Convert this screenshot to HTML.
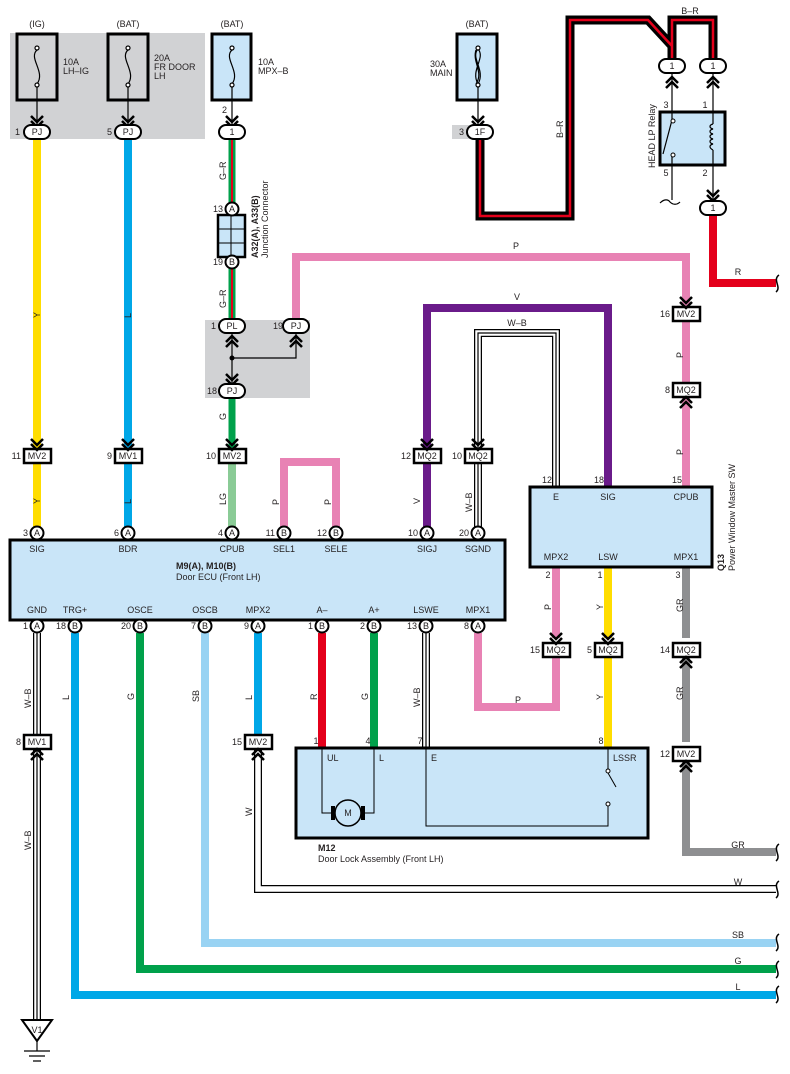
<!DOCTYPE html>
<html><head><meta charset="utf-8"><style>
html,body{margin:0;padding:0;background:#fff;}
svg{display:block;font-family:"Liberation Sans",sans-serif;}
text{font-size:9px;fill:#231f20;}
</style></head><body>
<svg width="790" height="1074" viewBox="0 0 790 1074" xmlns="http://www.w3.org/2000/svg">
<defs>
<g id="chd"><path d="M-6,-10 L0,-4 L6,-10 M-6,-5 L0,1 L6,-5" fill="none" stroke="#000" stroke-width="2.5"/></g>
<g id="chu"><path d="M-6,10 L0,4 L6,10 M-6,5 L0,-1 L6,5" fill="none" stroke="#000" stroke-width="2.5"/></g>
</defs>
<rect x="10" y="33" width="195" height="106" fill="#d1d2d4"/>
<rect x="205" y="320" width="105" height="78" fill="#d1d2d4"/>
<rect x="452" y="125" width="40" height="14" fill="#d1d2d4"/>

<g stroke="#000" stroke-width="3">
<rect x="17" y="34" width="40" height="66" fill="none"/>
<rect x="108" y="34" width="40" height="66" fill="none"/>
<rect x="212" y="34" width="39" height="66" fill="#c9e5f8"/>
<rect x="457" y="34" width="40" height="66" fill="#c9e5f8"/>
</g>
<g fill="none" stroke="#000" stroke-width="1.2">
<path d="M37,50 C28,58 46,72 37,84"/><path d="M128,50 C119,58 137,72 128,84"/><path d="M232,50 C223,58 241,72 232,84"/>
<path d="M478,49 C470,58 486,70 478,84 M478,49 C486,58 470,70 478,84 M476,50 C472,62 484,72 476,84"/>
<circle cx="37" cy="48" r="2" fill="#fff"/><circle cx="37" cy="85" r="2" fill="#fff"/>
<circle cx="128" cy="48" r="2" fill="#fff"/><circle cx="128" cy="85" r="2" fill="#fff"/>
<circle cx="232" cy="48" r="2" fill="#fff"/><circle cx="232" cy="85" r="2" fill="#fff"/>
<circle cx="478" cy="48" r="2" fill="#fff"/><circle cx="478" cy="85" r="2" fill="#fff"/>
<path d="M37,87 V124 M128,87 V124 M232,87 V124 M478,87 V124"/>
</g>
<use href="#chd" x="37" y="126"/><use href="#chd" x="128" y="126"/><use href="#chd" x="232" y="126"/><use href="#chd" x="478" y="126"/>
<text x="37" y="27" text-anchor="middle">(IG)</text><text x="128" y="27" text-anchor="middle">(BAT)</text><text x="232" y="27" text-anchor="middle">(BAT)</text><text x="477" y="27" text-anchor="middle">(BAT)</text>
<text x="63" y="65">10A</text><text x="63" y="74">LH–IG</text>
<text x="154" y="61">20A</text><text x="154" y="70">FR DOOR</text><text x="154" y="79">LH</text>
<text x="258" y="65">10A</text><text x="258" y="74">MPX–B</text>
<text x="430" y="67">30A</text><text x="430" y="76">MAIN</text>
<text x="222" y="113">2</text>

<g fill="none" stroke-linejoin="miter">
<path d="M37,139 V527" stroke="#ffdd00" stroke-width="8"/>
<path d="M128,139 V527" stroke="#00a7e7" stroke-width="8"/>
<path d="M232,139 V320 M232,398 V450" stroke="#00a14b" stroke-width="7"/>
<path d="M232,139 V203 M232,268 V320" stroke="#e4001b" stroke-width="2"/>
<path d="M232,463 V527" stroke="#8acb96" stroke-width="8"/>
<path d="M296,320 V257 H686 V307 M686,320 V384 M686,397 V487" stroke="#e882b4" stroke-width="8"/>
<path d="M284,527 V462 H336 V527" stroke="#e882b4" stroke-width="8"/>
<path d="M427,450 V308 H608 V487" stroke="#6a1b8a" stroke-width="8"/>
<path d="M427,463 V527" stroke="#6a1b8a" stroke-width="8"/>
<g stroke="#000" stroke-width="8"><path d="M478,450 V333 H556 V487"/><path d="M478,463 V527"/><path d="M426,633 V748"/><path d="M37,633 V735 M37,749 V1020"/></g>
<g stroke="#fff" stroke-width="5.5"><path d="M478,450 V333 H556 V487"/><path d="M478,463 V527"/><path d="M426,633 V748"/><path d="M37,633 V735 M37,749 V1020"/></g>
<g stroke="#000" stroke-width="1.2"><path d="M478,450 V333 H556 V487"/><path d="M478,463 V527"/><path d="M426,633 V748"/><path d="M37,633 V735 M37,749 V1020"/></g>
<path d="M75,633 V995 H776" stroke="#00a7e7" stroke-width="8"/>
<path d="M140,633 V969 H776" stroke="#00a14b" stroke-width="8"/>
<path d="M205,633 V943 H776" stroke="#99d3f3" stroke-width="8"/>
<path d="M258,633 V735" stroke="#00a7e7" stroke-width="8"/>
<g stroke="#000" stroke-width="8"><path d="M258,750 V889 H776"/></g>
<g stroke="#fff" stroke-width="5.5"><path d="M258,750 V889 H776"/></g>
<path d="M322,633 V748" stroke="#e4001b" stroke-width="8"/>
<path d="M374,633 V748" stroke="#00a14b" stroke-width="8"/>
<path d="M478,633 V707 H556 V644 M556,567 V638" stroke="#e882b4" stroke-width="8"/>
<path d="M608,567 V638 M608,657 V748" stroke="#ffdd00" stroke-width="8"/>
<path d="M686,567 V638 M686,657 V742 M686,761 V852 H776" stroke="#8e8f91" stroke-width="8"/>
<path d="M713,215 V283 H776" stroke="#e4001b" stroke-width="8"/>
<path d="M480,139 V216 H570 V20 H648 L672,46 V59 M672,60 V20 H713 V59" stroke="#000" stroke-width="9"/>
<path d="M480,139 V216 H570 V20 H648 L672,46 V59 M672,60 V20 H713 V59" stroke="#e4001b" stroke-width="2.5"/>
</g>
<g fill="none" stroke="#000" stroke-width="1.5">
<path d="M779,275 C772,280 782,287 776,292"/><path d="M779,844 C772,849 782,856 776,861"/><path d="M779,881 C772,886 782,893 776,898"/><path d="M779,934 C772,939 782,946 776,951"/><path d="M779,961 C772,966 782,973 776,978"/><path d="M779,986 C772,991 782,998 776,1003"/>
</g>
<g text-anchor="middle">
<text x="738" y="275">R</text><text x="738" y="848">GR</text><text x="738" y="885">W</text><text x="738" y="938">SB</text><text x="738" y="964">G</text><text x="738" y="990">L</text>
<text x="516" y="249">P</text><text x="517" y="300">V</text><text x="517" y="326">W–B</text><text x="690" y="14">B–R</text>
<text x="518" y="703">P</text>
</g>

<rect x="218" y="215" width="27" height="42" fill="#c9e5f8" stroke="#000" stroke-width="2.5"/>
<path d="M231,215 V257 M218,229 H245 M218,243 H245" stroke="#000" stroke-width="1"/>
<text transform="translate(258,258) rotate(-90)" font-weight="bold">A32(A), A33(B)</text>
<text transform="translate(268,258) rotate(-90)">Junction Connector</text>

<g stroke="#000" stroke-width="1.2" fill="none"><path d="M232,332 V384 M232,358 H296 V332"/></g>
<circle cx="232" cy="358" r="2.5" fill="#000"/>
<use href="#chu" x="232" y="337"/><use href="#chu" x="296" y="337"/><use href="#chd" x="232" y="384"/>

<rect x="660" y="112" width="65" height="53" fill="#c9e5f8" stroke="#000" stroke-width="3"/>
<g stroke="#000" stroke-width="1.2" fill="none">
<path d="M672,73 V119 M672,156 V200 M672,120 L663,154 M713,73 V124 M713,150 V200"/>
<path d="M713,124 c-4,1 -4,4 0,5 c-4,1 -4,4 0,5 c-4,1 -4,4 0,5 c-4,1 -4,4 0,5 c-4,1 -4,4 0,6"/>
<path d="M660,203 c4,-4 8,-4 10,-1 c3,3 7,3 10,0"/>
</g>
<circle cx="673" cy="121" r="2" fill="#fff" stroke="#000"/><circle cx="673" cy="155" r="2" fill="#fff" stroke="#000"/>
<use href="#chu" x="672" y="78"/><use href="#chu" x="713" y="78"/><use href="#chd" x="713" y="200"/>
<text x="666" y="108" text-anchor="middle">3</text><text x="705" y="108" text-anchor="middle">1</text><text x="666" y="176" text-anchor="middle">5</text><text x="705" y="176" text-anchor="middle">2</text>
<text transform="translate(655,168) rotate(-90)">HEAD LP Relay</text>

<g fill="#fff" stroke="#000" stroke-width="2">
<rect x="24" y="125" width="26" height="14" rx="7"/><rect x="115" y="125" width="26" height="14" rx="7"/><rect x="219" y="125" width="26" height="14" rx="7"/><rect x="467" y="125" width="26" height="14" rx="7"/>
<rect x="219" y="319" width="26" height="14" rx="7"/><rect x="283" y="319" width="26" height="14" rx="7"/><rect x="219" y="384" width="26" height="14" rx="7"/>
<rect x="659" y="59" width="26" height="14" rx="7"/><rect x="700" y="59" width="26" height="14" rx="7"/><rect x="700" y="201" width="26" height="14" rx="7"/>
</g>
<g text-anchor="middle">
<text x="37" y="135">PJ</text><text x="128" y="135">PJ</text><text x="232" y="135">1</text><text x="480" y="135">1F</text>
<text x="232" y="329">PL</text><text x="296" y="329">PJ</text><text x="232" y="394">PJ</text>
<text x="672" y="69">1</text><text x="713" y="69">1</text><text x="713" y="211">1</text>
</g>
<text x="15" y="135">1</text><text x="107" y="135">5</text><text x="459" y="135">3</text>
<text x="211" y="329">1</text><text x="273" y="329">19</text><text x="207" y="394">18</text>

<g fill="#fff" stroke="#000" stroke-width="2.5">
<rect x="24" y="449" width="27" height="14"/><rect x="115" y="449" width="27" height="14"/><rect x="219" y="449" width="27" height="14"/><rect x="414" y="449" width="27" height="14"/><rect x="465" y="449" width="27" height="14"/>
<rect x="673" y="307" width="27" height="14"/><rect x="673" y="383" width="27" height="14"/>
<rect x="543" y="643" width="27" height="14"/><rect x="595" y="643" width="27" height="14"/><rect x="673" y="643" width="27" height="14"/>
<rect x="24" y="735" width="27" height="14"/><rect x="245" y="735" width="27" height="14"/><rect x="673" y="747" width="27" height="14"/>
</g>
<g text-anchor="middle">
<text x="37" y="459">MV2</text><text x="128" y="459">MV1</text><text x="232" y="459">MV2</text><text x="427" y="459">MQ2</text><text x="478" y="459">MQ2</text>
<text x="686" y="317">MV2</text><text x="686" y="393">MQ2</text>
<text x="556" y="653">MQ2</text><text x="608" y="653">MQ2</text><text x="686" y="653">MQ2</text>
<text x="37" y="745">MV1</text><text x="258" y="745">MV2</text><text x="686" y="757">MV2</text>
</g>
<g text-anchor="end">
<text x="21" y="459">11</text><text x="112" y="459">9</text><text x="216" y="459">10</text><text x="411" y="459">12</text><text x="462" y="459">10</text>
<text x="670" y="317">16</text><text x="670" y="393">8</text>
<text x="540" y="653">15</text><text x="592" y="653">5</text><text x="670" y="653">14</text>
<text x="21" y="745">8</text><text x="242" y="745">15</text><text x="670" y="757">12</text>
</g>
<use href="#chd" x="37" y="449"/><use href="#chd" x="128" y="449"/><use href="#chd" x="232" y="449"/><use href="#chd" x="427" y="449"/><use href="#chd" x="478" y="449"/>
<use href="#chd" x="686" y="307"/><use href="#chu" x="686" y="398"/>
<use href="#chd" x="556" y="643"/><use href="#chd" x="608" y="643"/><use href="#chu" x="686" y="658"/>
<use href="#chu" x="37" y="750"/><use href="#chu" x="258" y="750"/><use href="#chu" x="686" y="762"/>

<g>
<text transform="translate(40,318) rotate(-90)">Y</text><text transform="translate(131,318) rotate(-90)">L</text><text transform="translate(226,180) rotate(-90)">G–R</text><text transform="translate(226,308) rotate(-90)">G–R</text><text transform="translate(226,420) rotate(-90)">G</text>
<text transform="translate(40,504) rotate(-90)">Y</text><text transform="translate(131,504) rotate(-90)">L</text><text transform="translate(226,505) rotate(-90)">LG</text><text transform="translate(279,505) rotate(-90)">P</text><text transform="translate(331,505) rotate(-90)">P</text><text transform="translate(420,504) rotate(-90)">V</text><text transform="translate(472,512) rotate(-90)">W–B</text>
<text transform="translate(683,358) rotate(-90)">P</text><text transform="translate(683,455) rotate(-90)">P</text><text transform="translate(563,138) rotate(-90)">B–R</text>
<text transform="translate(551,610) rotate(-90)">P</text><text transform="translate(603,610) rotate(-90)">Y</text><text transform="translate(683,612) rotate(-90)">GR</text>
<text transform="translate(603,700) rotate(-90)">Y</text><text transform="translate(683,700) rotate(-90)">GR</text>
<text transform="translate(31,708) rotate(-90)">W–B</text><text transform="translate(31,850) rotate(-90)">W–B</text><text transform="translate(69,700) rotate(-90)">L</text><text transform="translate(134,700) rotate(-90)">G</text><text transform="translate(199,702) rotate(-90)">SB</text><text transform="translate(252,700) rotate(-90)">L</text><text transform="translate(252,816) rotate(-90)">W</text><text transform="translate(317,700) rotate(-90)">R</text><text transform="translate(368,700) rotate(-90)">G</text><text transform="translate(420,707) rotate(-90)">W–B</text>
</g>

<rect x="10" y="540" width="495" height="80" fill="#c9e5f8" stroke="#000" stroke-width="3"/>
<g text-anchor="middle">
<text x="37" y="552">SIG</text><text x="128" y="552">BDR</text><text x="232" y="552">CPUB</text><text x="284" y="552">SEL1</text><text x="336" y="552">SELE</text><text x="427" y="552">SIGJ</text><text x="478" y="552">SGND</text>
<text x="37" y="613">GND</text><text x="75" y="613">TRG+</text><text x="140" y="613">OSCE</text><text x="205" y="613">OSCB</text><text x="258" y="613">MPX2</text><text x="322" y="613">A–</text><text x="374" y="613">A+</text><text x="426" y="613">LSWE</text><text x="478" y="613">MPX1</text>
</g>
<text x="176" y="569" font-weight="bold">M9(A), M10(B)</text><text x="176" y="580">Door ECU (Front LH)</text>
<g fill="#fff" stroke="#000" stroke-width="2">
<circle cx="37" cy="533" r="6.5"/><circle cx="128" cy="533" r="6.5"/><circle cx="232" cy="533" r="6.5"/><circle cx="284" cy="533" r="6.5"/><circle cx="336" cy="533" r="6.5"/><circle cx="427" cy="533" r="6.5"/><circle cx="478" cy="533" r="6.5"/>
<circle cx="37" cy="626" r="6.5"/><circle cx="75" cy="626" r="6.5"/><circle cx="140" cy="626" r="6.5"/><circle cx="205" cy="626" r="6.5"/><circle cx="258" cy="626" r="6.5"/><circle cx="322" cy="626" r="6.5"/><circle cx="374" cy="626" r="6.5"/><circle cx="426" cy="626" r="6.5"/><circle cx="478" cy="626" r="6.5"/>
<circle cx="232" cy="209" r="6.5"/><circle cx="232" cy="262" r="6.5"/>
</g>
<g text-anchor="middle" font-size="9">
<text x="37" y="536">A</text><text x="128" y="536">A</text><text x="232" y="536">A</text><text x="284" y="536">B</text><text x="336" y="536">B</text><text x="427" y="536">A</text><text x="478" y="536">A</text>
<text x="37" y="629">A</text><text x="75" y="629">B</text><text x="140" y="629">B</text><text x="205" y="629">B</text><text x="258" y="629">A</text><text x="322" y="629">B</text><text x="374" y="629">B</text><text x="426" y="629">B</text><text x="478" y="629">A</text>
<text x="232" y="212">A</text><text x="232" y="265">B</text>
</g>
<g text-anchor="end">
<text x="28" y="536">3</text><text x="119" y="536">6</text><text x="223" y="536">4</text><text x="275" y="536">11</text><text x="327" y="536">12</text><text x="418" y="536">10</text><text x="469" y="536">20</text>
<text x="28" y="629">1</text><text x="66" y="629">18</text><text x="131" y="629">20</text><text x="196" y="629">7</text><text x="249" y="629">9</text><text x="313" y="629">1</text><text x="365" y="629">2</text><text x="417" y="629">13</text><text x="469" y="629">8</text>
<text x="223" y="212">13</text><text x="223" y="265">19</text>
</g>

<rect x="530" y="487" width="182" height="80" fill="#c9e5f8" stroke="#000" stroke-width="3"/>
<g text-anchor="middle">
<text x="556" y="500">E</text><text x="608" y="500">SIG</text><text x="686" y="500">CPUB</text>
<text x="556" y="560">MPX2</text><text x="608" y="560">LSW</text><text x="686" y="560">MPX1</text>
<text x="547" y="483">12</text><text x="599" y="483">18</text><text x="677" y="483">15</text>
<text x="548" y="578">2</text><text x="600" y="578">1</text><text x="678" y="578">3</text>
</g>
<text transform="translate(724,571) rotate(-90)" font-weight="bold">Q13</text>
<text transform="translate(735,571) rotate(-90)">Power Window Master SW</text>

<rect x="296" y="748" width="352" height="90" fill="#c9e5f8" stroke="#000" stroke-width="3"/>
<g stroke="#000" stroke-width="1" fill="none">
<path d="M322,748 V813 H334 M374,748 V813 H362 M426,748 V826 H608 V804 M608,748 V770 M608,773 L616,787"/>
</g>
<circle cx="608" cy="771" r="2" fill="#fff" stroke="#000"/><circle cx="608" cy="804" r="2" fill="#fff" stroke="#000"/>
<rect x="331" y="806" width="4" height="14" fill="#000"/><rect x="361" y="806" width="4" height="14" fill="#000"/>
<circle cx="348" cy="813" r="13" fill="#c9e5f8" stroke="#000" stroke-width="1.5"/>
<text x="348" y="816" text-anchor="middle">M</text>
<text x="327" y="761">UL</text><text x="379" y="761">L</text><text x="431" y="761">E</text><text x="613" y="761">LSSR</text>
<g text-anchor="middle"><text x="316" y="744">1</text><text x="368" y="744">4</text><text x="420" y="744">7</text><text x="601" y="744">8</text></g>
<text x="318" y="851" font-weight="bold">M12</text><text x="318" y="862">Door Lock Assembly (Front LH)</text>

<path d="M22,1020 H52 L37,1041 Z" fill="#fff" stroke="#000" stroke-width="2"/>
<text x="37" y="1033" text-anchor="middle">V1</text>
<path d="M37,1041 V1051 M24,1051 H50 M29,1056 H45 M33,1061 H41" stroke="#000" stroke-width="1.2"/>
</svg>
</body></html>
